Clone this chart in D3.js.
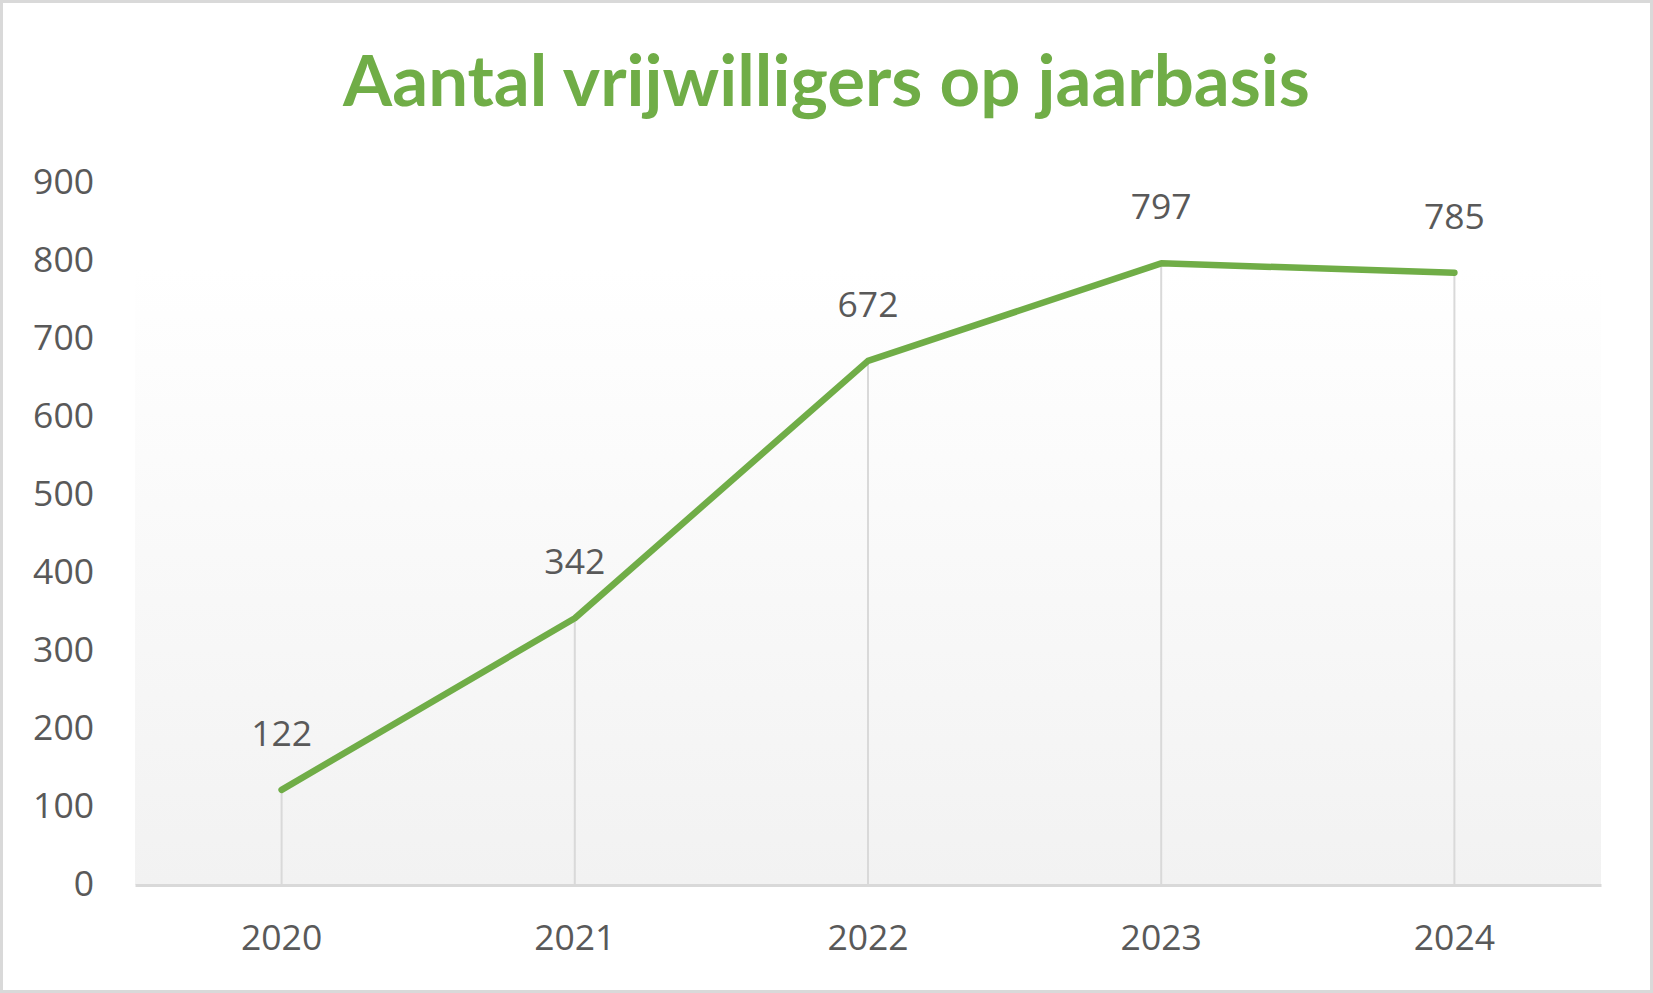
<!DOCTYPE html>
<html>
<head>
<meta charset="utf-8">
<script src="https://cdn.jsdelivr.net/npm/d3@7"></script>
<style>
html, body { margin: 0; padding: 0; background: #fff; }
svg { display: block; }
</style>
</head>
<body>
<svg id="chart" width="1653" height="993"></svg>
<script>
const title = "Aantal vrijwilligers op jaarbasis";
const years = ["2020", "2021", "2022", "2023", "2024"];
const volunteers = [122, 342, 672, 797, 785];
const yTicks = [0, 100, 200, 300, 400, 500, 600, 700, 800, 900];

const W = 1653, H = 993;
const margin = { left: 135, right: 52, top: 183, bottom: 108 };
const svg = d3.select("#chart");
const textColor = "#595959";
const green = "#70AD47";
const numFont = "'Open Sans', sans-serif";

// outer border
svg.append("rect")
  .attr("x", 1.5).attr("y", 1.5)
  .attr("width", W - 3).attr("height", H - 3)
  .attr("fill", "#fff").attr("stroke", "#d9d9d9").attr("stroke-width", 3);

const x = d3.scaleBand().domain(years).range([margin.left, W - margin.right]);
const y = d3.scaleLinear().domain([0, 900]).range([H - margin.bottom, margin.top]);

// plot area gradient
const defs = svg.append("defs");
const grad = defs.append("linearGradient").attr("id", "pa").attr("x1", 0).attr("y1", 0).attr("x2", 0).attr("y2", 1);
grad.append("stop").attr("offset", "0").attr("stop-color", "#ffffff");
grad.append("stop").attr("offset", "0.12").attr("stop-color", "#ffffff");
grad.append("stop").attr("offset", "1").attr("stop-color", "#f2f2f2");

svg.append("rect")
  .attr("x", x.range()[0]).attr("y", y(900))
  .attr("width", x.range()[1] - x.range()[0]).attr("height", y(0) - y(900))
  .attr("fill", "url(#pa)");

// title
const t = svg.append("text")
  .attr("x", W / 2).attr("y", 106)
  .attr("text-anchor", "middle")
  .attr("font-family", "Lato, 'Open Sans', sans-serif")
  .attr("font-weight", "bold")
  .attr("font-size", 62)
  .attr("fill", green)
  .text(title);
const tw = t.node().getComputedTextLength();
if (tw > 0) t.attr("font-size", 62 * 967 / tw);

// drop lines
const cx = d => x(d) + x.bandwidth() / 2;
svg.append("g").selectAll("line").data(years).join("line")
  .attr("x1", d => cx(d)).attr("x2", d => cx(d))
  .attr("y1", (d, i) => y(volunteers[i])).attr("y2", y(0))
  .attr("stroke", "#d9d9d9").attr("stroke-width", 2);

// x axis
const xAxis = svg.append("g")
  .attr("transform", `translate(0,${y(0)})`)
  .call(d3.axisBottom(x).tickSize(0).tickPadding(0));
xAxis.select(".domain").attr("stroke", "#d9d9d9").attr("stroke-width", 3);
xAxis.selectAll("text")
  .attr("y", 65).attr("dy", null)
  .attr("font-family", numFont).attr("font-size", 35.5).attr("fill", textColor);

// y axis labels
const yAxis = svg.append("g")
  .attr("transform", `translate(${margin.left},0)`)
  .call(d3.axisLeft(y).tickValues(yTicks).tickSize(0).tickPadding(0));
yAxis.select(".domain").remove();
yAxis.selectAll("text")
  .attr("x", -41).attr("dy", 10)
  .attr("font-family", numFont).attr("font-size", 35.5).attr("fill", textColor);

// line
const line = d3.line().x((d, i) => cx(years[i])).y(d => y(d));
svg.append("path")
  .datum(volunteers)
  .attr("d", line)
  .attr("fill", "none")
  .attr("stroke", green)
  .attr("stroke-width", 6.5)
  .attr("stroke-linecap", "round")
  .attr("stroke-linejoin", "round");

// data labels
svg.append("g").selectAll("text").data(volunteers).join("text")
  .attr("x", (d, i) => cx(years[i]))
  .attr("y", d => y(d) - 44)
  .attr("text-anchor", "middle")
  .attr("font-family", numFont).attr("font-size", 35.5).attr("fill", textColor)
  .text(d => d);
</script>
</body>
</html>
